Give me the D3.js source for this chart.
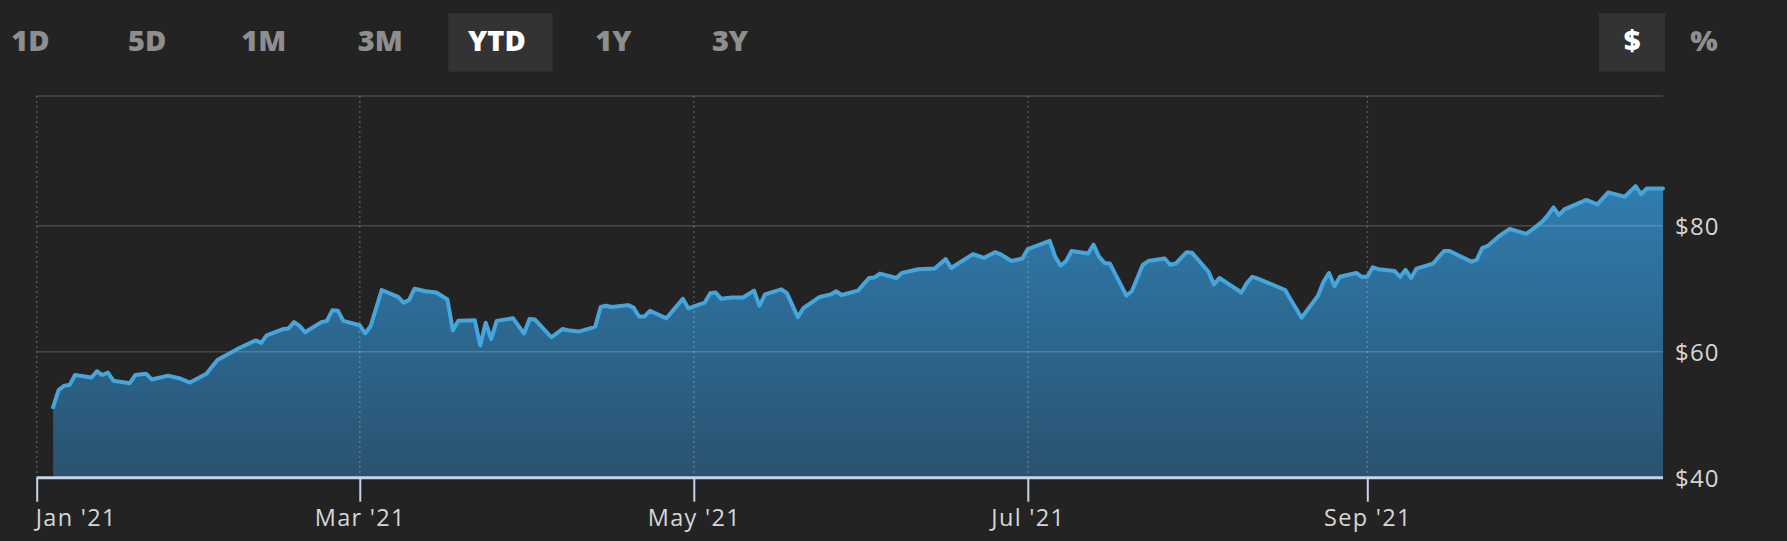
<!DOCTYPE html>
<html>
<head>
<meta charset="utf-8">
<script src="https://cdn.jsdelivr.net/npm/d3@7"></script>
<style>
  html, body { margin: 0; padding: 0; background: #232323; }
  svg { display: block; }
</style>
</head>
<body>
<svg id="chart" width="1787" height="541"></svg>
<script>
// ---------- data ----------
const rangeTabs = ["1D", "5D", "1M", "3M", "YTD", "1Y", "3Y"];
const activeRange = "YTD";
const unitTabs = ["$", "%"];
const activeUnit = "$";

const yTickValues = [40, 60, 80];
const yTickLabels = ["$40", "$60", "$80"];

const dates = [
"2021-01-04","2021-01-05","2021-01-06","2021-01-07","2021-01-08","2021-01-11","2021-01-12","2021-01-13","2021-01-14","2021-01-15",
"2021-01-18","2021-01-19","2021-01-21","2021-01-22","2021-01-25","2021-01-27","2021-01-29","2021-02-01","2021-02-03","2021-02-07",
"2021-02-10","2021-02-11","2021-02-12","2021-02-15","2021-02-16","2021-02-17","2021-02-18","2021-02-19","2021-02-22","2021-02-23",
"2021-02-24","2021-02-25","2021-02-26","2021-03-01","2021-03-02","2021-03-03","2021-03-05","2021-03-08","2021-03-09","2021-03-10",
"2021-03-11","2021-03-13","2021-03-15","2021-03-17","2021-03-18","2021-03-19","2021-03-22","2021-03-23","2021-03-24","2021-03-25",
"2021-03-26","2021-03-29","2021-03-31","2021-04-01","2021-04-02","2021-04-05","2021-04-07","2021-04-08","2021-04-10","2021-04-12",
"2021-04-13","2021-04-14","2021-04-15","2021-04-16","2021-04-19","2021-04-20","2021-04-21","2021-04-22","2021-04-23","2021-04-24",
"2021-04-26","2021-04-29","2021-04-30","2021-05-03","2021-05-04","2021-05-05","2021-05-06","2021-05-08","2021-05-10","2021-05-12",
"2021-05-13","2021-05-14","2021-05-17","2021-05-18","2021-05-20","2021-05-21","2021-05-24","2021-05-26","2021-05-27","2021-05-28",
"2021-05-31","2021-06-02","2021-06-03","2021-06-04","2021-06-07","2021-06-08","2021-06-11","2021-06-14","2021-06-16","2021-06-17",
"2021-06-21","2021-06-23","2021-06-25","2021-06-26","2021-06-28","2021-06-30","2021-07-01","2021-07-05","2021-07-06","2021-07-07",
"2021-07-08","2021-07-09","2021-07-12","2021-07-13","2021-07-14","2021-07-15","2021-07-16","2021-07-19","2021-07-20","2021-07-22",
"2021-07-23","2021-07-26","2021-07-27","2021-07-28","2021-07-30","2021-07-31","2021-08-03","2021-08-04","2021-08-05","2021-08-09",
"2021-08-10","2021-08-11","2021-08-12","2021-08-14","2021-08-17","2021-08-18","2021-08-20","2021-08-23","2021-08-24","2021-08-25",
"2021-08-26","2021-08-27","2021-08-30","2021-08-31","2021-09-01","2021-09-02","2021-09-03","2021-09-06","2021-09-07","2021-09-08",
"2021-09-09","2021-09-10","2021-09-13","2021-09-15","2021-09-16","2021-09-20","2021-09-21","2021-09-22","2021-09-23","2021-09-25",
"2021-09-27","2021-09-30","2021-10-01","2021-10-03","2021-10-04","2021-10-05","2021-10-06","2021-10-07","2021-10-11","2021-10-13",
"2021-10-15","2021-10-18","2021-10-20","2021-10-21","2021-10-22","2021-10-25"
];

const prices = [
51.2,53.9,54.6,54.7,56.3,55.9,56.9,56.3,56.7,55.4,
55.0,56.3,56.5,55.6,56.2,55.8,55.1,56.5,58.7,60.6,
61.8,61.4,62.6,63.6,63.7,64.7,64.1,63.1,64.7,64.9,
66.6,66.5,64.9,64.2,62.9,64.1,69.8,68.7,67.8,68.2,
70.0,69.6,69.4,68.3,63.4,64.9,65.0,61.0,64.6,62.0,
64.9,65.3,62.9,65.2,65.1,62.3,63.6,63.4,63.2,63.7,
64.0,67.1,67.3,67.1,67.4,67.0,65.6,65.6,66.5,66.1,
65.3,68.4,66.9,67.8,69.3,69.4,68.4,68.6,68.6,69.7,
67.3,69.1,69.9,69.3,65.5,66.9,68.7,69.1,69.6,69.0,
69.7,71.7,71.8,72.4,71.7,72.5,73.1,73.2,74.7,73.3,
75.5,74.9,75.8,75.5,74.4,74.8,76.3,77.6,75.1,73.7,
74.4,76.0,75.6,77.0,75.1,74.1,74.0,68.9,69.6,73.8,
74.4,74.8,73.8,74.0,75.8,75.7,72.7,70.7,71.7,69.4,
70.9,71.9,71.6,70.9,69.8,68.3,65.4,68.9,71.1,72.5,
70.4,71.9,72.5,71.9,71.9,73.4,73.1,72.8,71.9,73.0,
71.7,73.2,74.0,76.0,76.0,74.3,74.6,76.5,76.8,78.3,
79.5,78.7,79.3,80.7,81.7,82.9,81.7,82.6,84.1,83.4,
85.3,84.6,86.3,85.0,85.9,85.9
];

const xDomainStart = "2021-01-01";
const xDomainEnd = "2021-10-25";

// ---------- build ----------
const parse = d3.timeParse("%Y-%m-%d");
const data = dates.map((d, i) => ({ date: parse(d), value: prices[i] }));

const svg = d3.select("#chart");
svg.append("rect").attr("width", 1787).attr("height", 541).attr("fill", "#232323");

const plotLeft = 36.7, plotRight = 1663, plotTop = 96, plotBottom = 477.7;

const x = d3.scaleTime()
  .domain([parse(xDomainStart), parse(xDomainEnd)])
  .range([plotLeft, plotRight]);
const y = d3.scaleLinear()
  .domain([40, 100.6])
  .range([plotBottom, plotTop]);

// gradient
const defs = svg.append("defs");
const grad = defs.append("linearGradient")
  .attr("id", "areaGrad")
  .attr("x1", 0).attr("y1", 0).attr("x2", 0).attr("y2", 1);
grad.append("stop").attr("offset", "0%").attr("stop-color", "#307db0");
grad.append("stop").attr("offset", "100%").attr("stop-color", "#29526f");

// top frame line
svg.append("line")
  .attr("x1", plotLeft).attr("x2", plotRight)
  .attr("y1", plotTop).attr("y2", plotTop)
  .attr("stroke", "#4a4a4a").attr("stroke-width", 1.5);

// area
const area = d3.area()
  .x(d => x(d.date))
  .y0(y(40))
  .y1(d => y(d.value));
svg.append("path")
  .datum(data)
  .attr("d", area)
  .attr("fill", "url(#areaGrad)");

// horizontal gridlines (over area)
svg.append("g")
  .selectAll("line")
  .data(yTickValues.filter(v => v > 40))
  .join("line")
  .attr("x1", plotLeft).attr("x2", plotRight)
  .attr("y1", d => y(d)).attr("y2", d => y(d))
  .attr("stroke", "rgba(255,255,255,0.17)")
  .attr("stroke-width", 1.5);

// vertical dotted gridlines
const xTicks = d3.timeMonth.every(2).range(parse(xDomainStart), parse(xDomainEnd));
svg.append("g")
  .selectAll("line")
  .data(xTicks)
  .join("line")
  .attr("x1", d => x(d)).attr("x2", d => x(d))
  .attr("y1", plotTop).attr("y2", plotBottom)
  .attr("stroke", "rgba(255,255,255,0.22)")
  .attr("stroke-width", 1.5)
  .attr("stroke-dasharray", "2,3");

// line
const line = d3.line()
  .x(d => x(d.date))
  .y(d => y(d.value));
svg.append("path")
  .datum(data)
  .attr("d", line)
  .attr("fill", "none")
  .attr("stroke", "#45a6de")
  .attr("stroke-width", 4)
  .attr("stroke-linejoin", "round")
  .attr("stroke-linecap", "round");

// x axis
const fmt = d3.timeFormat("%b '%y");
const xAxisG = svg.append("g").attr("transform", `translate(0,${plotBottom})`);
xAxisG.call(d3.axisBottom(x).tickValues(xTicks).tickFormat(fmt).tickSize(24).tickSizeOuter(0));
xAxisG.select(".domain").attr("stroke", "#c7d6e6").attr("stroke-width", 3)
  .attr("d", `M${plotLeft},0H${plotRight}`);
xAxisG.selectAll(".tick line").attr("stroke", "#c7d6e6").attr("stroke-width", 2);
xAxisG.selectAll(".tick text")
  .attr("fill", "#d6d6d6")
  .attr("font-family", "'Open Sans', sans-serif")
  .attr("font-size", 23.5)
  .attr("letter-spacing", 1.3)
  .attr("dy", null)
  .attr("y", 48.5)
  .attr("text-anchor", (d, i) => i === 0 ? "start" : "middle")
  .attr("dx", (d, i) => i === 0 ? -1.5 : 0);

// y labels
const yAxisG = svg.append("g").attr("transform", `translate(${plotRight},0)`);
yAxisG.call(d3.axisRight(y).tickValues(yTickValues).tickFormat((d, i) => yTickLabels[i]).tickSize(0));
yAxisG.select(".domain").remove();
yAxisG.selectAll(".tick text")
  .attr("x", 12)
  .attr("dy", "0.36em")
  .attr("fill", "#d6d6d6")
  .attr("font-family", "'Open Sans', sans-serif")
  .attr("font-size", 24)
  .attr("letter-spacing", 1.2);

// range tabs
const tabX = d3.scalePoint().domain(rangeTabs).range([30.5, 730]);
const tabFont = "'Open Sans', sans-serif";
svg.append("rect")
  .attr("x", 448.3).attr("y", 13.3)
  .attr("width", 104.4).attr("height", 58.4)
  .attr("fill", "#333333");
svg.append("g")
  .selectAll("text")
  .data(rangeTabs)
  .join("text")
  .attr("x", d => tabX(d))
  .attr("y", 51)
  .attr("text-anchor", "middle")
  .attr("font-family", tabFont)
  .attr("font-weight", 800)
  .attr("font-size", 29)
  .attr("fill", d => d === activeRange ? "#ffffff" : "#8e8e8e")
  .text(d => d);

// unit tabs
const unitX = d3.scalePoint().domain(unitTabs).range([1632, 1704]);
svg.append("rect")
  .attr("x", 1599).attr("y", 13.3)
  .attr("width", 66).attr("height", 58.4)
  .attr("fill", "#333333");
svg.append("g")
  .selectAll("text")
  .data(unitTabs)
  .join("text")
  .attr("x", d => unitX(d))
  .attr("y", 51)
  .attr("text-anchor", "middle")
  .attr("font-family", tabFont)
  .attr("font-weight", 800)
  .attr("font-size", 29)
  .attr("fill", d => d === activeUnit ? "#ffffff" : "#8e8e8e")
  .text(d => d);
</script>
</body>
</html>
